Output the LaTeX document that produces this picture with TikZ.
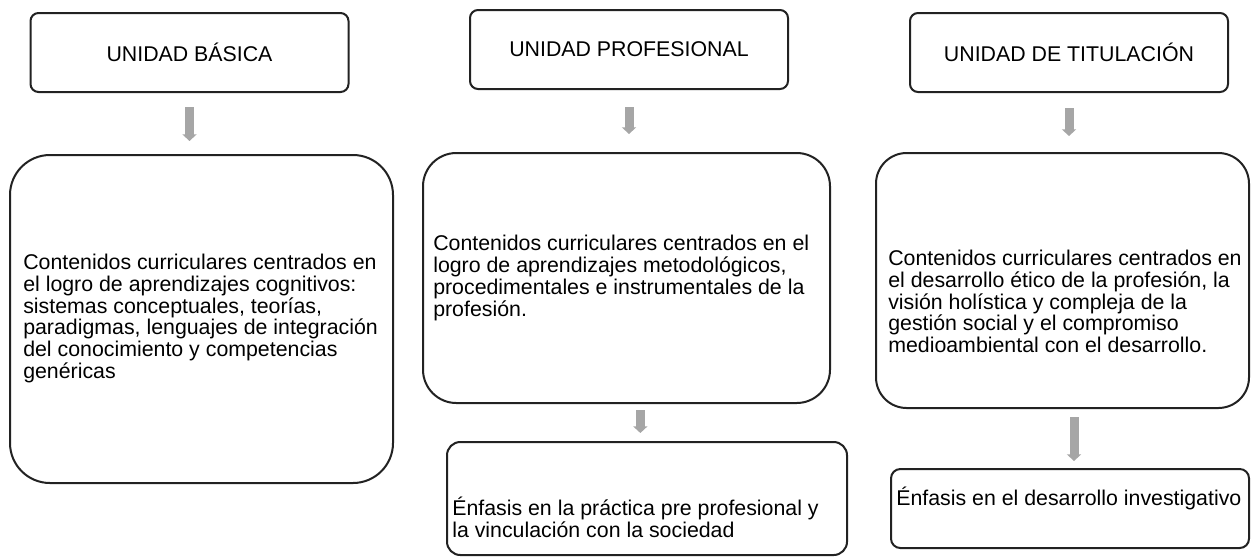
\documentclass[tikz,border=0pt]{standalone}
\usepackage{fontspec}
\setmainfont{Liberation Sans}
\usetikzlibrary{arrows.meta}
\definecolor{flechagris}{HTML}{A6A6A6}
\definecolor{borde}{HTML}{222222}
\tikzset{
  every picture/.style={
    x=0.75pt, y=-0.75pt
  },
  unidad/.style={
    draw=borde, line width=1.5pt, rounded corners=6pt,
    minimum width=238.5pt, minimum height=59.25pt,
    inner sep=0pt, font=\fontsize{16}{16.3}\selectfont
  },
  caja/.style={
    draw=borde, line width=1.5pt, inner sep=0pt
  },
  txt/.style={
    font=\fontsize{16}{16.3}\selectfont, align=left,
    inner sep=0pt, anchor=west
  },
  flecha/.style={
    draw=flechagris, line width=6.75pt,
    -{Triangle[width=10.5pt, length=5pt]}
  }
}

\begin{document}
\begin{tikzpicture}
    \fill[white] (0,0) rectangle (1252,558);
    % unidades
    \node [unidad] (u1) at (189.5,52.5) {UNIDAD BÁSICA};
    \node [unidad] (u2) at (629,49.5) {UNIDAD PROFESIONAL};
    \node [unidad] (u3) at (1069,52.5) {UNIDAD DE TITULACIÓN};
    % contenidos
    \node [caja,rounded corners=30pt,minimum width=287.25pt,minimum height=246pt] (c1) at (201.5,319) {};
    \node [caja,rounded corners=25pt,minimum width=305.25pt,minimum height=187.5pt] (c2) at (626.5,278) {};
    \node [caja,rounded corners=23pt,minimum width=279.75pt,minimum height=191.25pt] (c3) at (1062.5,280.5) {};
    \node [txt] (t1) at (23,318.5) {Contenidos curriculares centrados en\\
      el logro de aprendizajes cognitivos:\\
      sistemas conceptuales, teorías,\\
      paradigmas, lenguajes de integración\\
      del conocimiento y competencias\\
      genéricas};
    \node [txt] (t2) at (433,278) {Contenidos curriculares centrados en el\\
      logro de aprendizajes metodológicos,\\
      procedimentales e instrumentales de la\\
      profesión.};
    \node [txt] (t3) at (888,301.5) {Contenidos curriculares centrados en\\
      el desarrollo ético de la profesión, la\\
      visión holística y compleja de la\\
      gestión social y el compromiso\\
      medioambiental con el desarrollo.};
    % enfasis
    \node [caja,rounded corners=10pt,minimum width=300pt,minimum height=84.75pt] (s2) at (647,498.5) {};
    \node [caja,rounded corners=7pt,minimum width=268.5pt,minimum height=59.25pt] (s3) at (1070,508.5) {};
    \node [txt] (e2) at (452,517.5) {Énfasis en la práctica pre profesional y\\
      la vinculación con la sociedad};
    \node [txt] (e3) at (896,498) {Énfasis en el desarrollo investigativo};
    % flechas
    \draw [flecha,shorten <=10.5pt,shorten >=9.75pt] (u1.south) -- (u1.south |- c1.north);
    \draw [flecha,shorten <=12.75pt,shorten >=13.5pt] (u2.south) -- (u2.south |- c2.north);
    \draw [flecha,shorten <=11.25pt,shorten >=12pt] (u3.south) -- (u3.south |- c3.north);
    \draw [flecha,shorten <=4.5pt,shorten >=6pt] ([xshift=-5pt]s2.north |- c2.south) -- ([xshift=-5pt]s2.north);
    \draw [flecha,shorten <=6pt,shorten >=5.25pt] ([xshift=3pt]s3.north |- c3.south) -- ([xshift=3pt]s3.north);
    \useasboundingbox (0,0) rectangle (1252,558);
\end{tikzpicture}
\end{document}
